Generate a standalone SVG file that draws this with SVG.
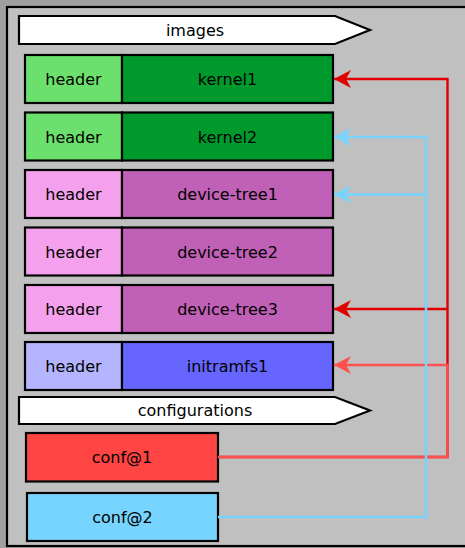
<svg xmlns="http://www.w3.org/2000/svg" width="465" height="548" viewBox="0 0 465 548">
<defs>
<style>
.box{stroke:#000;stroke-width:2.2}
.lbl{font-family:"DejaVu Sans",sans-serif;font-size:16px;fill:#000;text-anchor:middle}
.c{fill:none;stroke-width:2.4}
</style>
<marker id="aR" viewBox="0 0 18 18" refX="17" refY="9" markerWidth="18" markerHeight="18" markerUnits="userSpaceOnUse" orient="auto">
<path d="M17,9 L0,0 L5,9 L0,18 Z" fill="#e00000"/>
</marker>
<marker id="aL" viewBox="0 0 18 18" refX="17" refY="9" markerWidth="18" markerHeight="18" markerUnits="userSpaceOnUse" orient="auto">
<path d="M17,9 L0,0 L5,9 L0,18 Z" fill="#ff5050"/>
</marker>
<marker id="aB" viewBox="0 0 18 18" refX="17" refY="9" markerWidth="18" markerHeight="18" markerUnits="userSpaceOnUse" orient="auto">
<path d="M17,9 L0,0 L5,9 L0,18 Z" fill="#77d4ff"/>
</marker>
</defs>
<rect x="0" y="0" width="465" height="548" fill="#a0a0a0"/>
<rect x="7" y="7" width="470" height="539" fill="#c0c0c0" stroke="#000" stroke-width="2.2"/>

<g id="images-banner">
<polygon points="19,16 335,16 370,30 335,44 19,44" fill="#fff" stroke="#000" stroke-width="2.2"/>
<text class="lbl" x="195" y="36">images</text>
</g>

<g id="kernel1">
<rect class="box" x="25" y="55" width="97" height="48" fill="#6ce06c"/>
<rect class="box" x="122" y="55" width="211" height="48" fill="#009a2c"/>
<text class="lbl" x="73.5" y="85">header</text>
<text class="lbl" x="227.5" y="85">kernel1</text>
</g>
<g id="kernel2">
<rect class="box" x="25" y="112.5" width="97" height="48" fill="#6ce06c"/>
<rect class="box" x="122" y="112.5" width="211" height="48" fill="#009a2c"/>
<text class="lbl" x="73.5" y="142.5">header</text>
<text class="lbl" x="227.5" y="142.5">kernel2</text>
</g>
<g id="device-tree1">
<rect class="box" x="25" y="170" width="97" height="48" fill="#f5a0ec"/>
<rect class="box" x="122" y="170" width="211" height="48" fill="#c060b6"/>
<text class="lbl" x="73.5" y="200">header</text>
<text class="lbl" x="227.5" y="200">device-tree1</text>
</g>
<g id="device-tree2">
<rect class="box" x="25" y="227.5" width="97" height="48" fill="#f5a0ec"/>
<rect class="box" x="122" y="227.5" width="211" height="48" fill="#c060b6"/>
<text class="lbl" x="73.5" y="257.5">header</text>
<text class="lbl" x="227.5" y="257.5">device-tree2</text>
</g>
<g id="device-tree3">
<rect class="box" x="25" y="285" width="97" height="48" fill="#f5a0ec"/>
<rect class="box" x="122" y="285" width="211" height="48" fill="#c060b6"/>
<text class="lbl" x="73.5" y="315">header</text>
<text class="lbl" x="227.5" y="315">device-tree3</text>
</g>
<g id="initramfs1">
<rect class="box" x="25" y="342" width="97" height="48" fill="#b4b4ff"/>
<rect class="box" x="122" y="342" width="211" height="48" fill="#6666ff"/>
<text class="lbl" x="73.5" y="372">header</text>
<text class="lbl" x="227.5" y="372">initramfs1</text>
</g>

<g id="configurations-banner">
<polygon points="19,397 335,397 370,410.5 335,424 19,424" fill="#fff" stroke="#000" stroke-width="2.2"/>
<text class="lbl" x="195" y="416">configurations</text>
</g>

<g id="conf1">
<rect class="box" x="26" y="433" width="192" height="48.5" fill="#ff4444"/>
<text class="lbl" x="122" y="463">conf@1</text>
</g>
<g id="conf2">
<rect class="box" x="27" y="493" width="191" height="48" fill="#77d4ff"/>
<text class="lbl" x="122.5" y="523">conf@2</text>
</g>

<g id="connectors">
<path class="c" stroke="#e00000" d="M218,457 H447.5 V79 H334" marker-end="url(#aR)"/>
<path class="c" stroke="#e00000" d="M447.5,309 H334" marker-end="url(#aR)"/>
<path class="c" stroke="#ff5050" d="M218,457 H447.5 V365 H334" marker-end="url(#aL)"/>
<path class="c" stroke="#77d4ff" d="M218,517 H426 V137 H334" marker-end="url(#aB)"/>
<path class="c" stroke="#77d4ff" d="M426,194.5 H334" marker-end="url(#aB)"/>
</g>
</svg>
